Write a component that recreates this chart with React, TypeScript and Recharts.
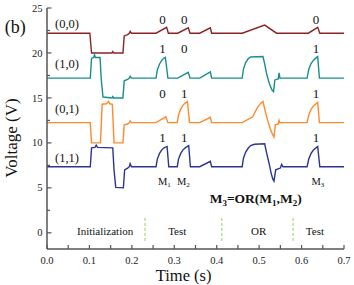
import React from 'react';
import { LineChart, Line, XAxis, YAxis, ReferenceLine, ReferenceDot } from 'recharts';

// ---- data: [time (s), voltage (V)] ----
const trace00: number[][] = [[0,22.2],[0.101,22.2],[0.105,20.0],[0.153,20.0],[0.155,20.15],[0.157,20.0],[0.179,20.0],[0.182,21.9],[0.19,22.05],[0.194,22.2],[0.196,22.4],[0.199,22.2],[0.257,22.2],[0.282,22.85],[0.286,22.2],[0.308,22.2],[0.333,22.8],[0.337,22.2],[0.36,22.2],[0.385,22.8],[0.388,22.2],[0.46,22.2],[0.513,23.1],[0.541,22.2],[0.616,22.2],[0.638,22.85],[0.643,22.2],[0.7,22.2]];
const trace10: number[][] = [[0,17.2],[0.102,17.2],[0.105,19.4],[0.11,19.5],[0.112,19.8],[0.114,19.5],[0.125,19.5],[0.128,17.0],[0.132,15.1],[0.153,15.0],[0.155,15.15],[0.157,15.0],[0.179,15.0],[0.182,16.9],[0.19,17.05],[0.194,17.2],[0.196,17.4],[0.199,17.2],[0.257,17.2],[0.26,18.1],[0.265,18.75],[0.27,19.15],[0.275,19.4],[0.279,19.5],[0.285,17.2],[0.308,17.2],[0.333,17.85],[0.337,17.2],[0.36,17.2],[0.385,17.9],[0.388,17.2],[0.46,17.2],[0.463,18.2],[0.468,18.9],[0.474,19.35],[0.48,19.55],[0.509,19.6],[0.513,18.8],[0.518,17.6],[0.524,16.6],[0.53,15.9],[0.534,15.7],[0.537,17.0],[0.545,17.1],[0.547,17.8],[0.549,17.2],[0.613,17.2],[0.617,18.2],[0.622,18.8],[0.628,19.2],[0.634,19.45],[0.638,19.6],[0.642,17.2],[0.7,17.2]];
const trace01: number[][] = [[0,12.25],[0.102,12.25],[0.105,10.0],[0.126,10.0],[0.13,14.3],[0.14,14.35],[0.145,14.6],[0.148,14.35],[0.154,14.3],[0.158,10.0],[0.179,10.0],[0.182,12.0],[0.19,12.1],[0.194,12.25],[0.196,12.45],[0.199,12.25],[0.257,12.25],[0.28,12.9],[0.285,12.25],[0.307,12.25],[0.31,13.1],[0.315,13.75],[0.32,14.15],[0.325,14.4],[0.331,14.6],[0.336,12.25],[0.36,12.25],[0.385,12.85],[0.388,12.25],[0.46,12.25],[0.485,12.9],[0.49,13.4],[0.495,13.85],[0.5,14.2],[0.505,14.45],[0.509,14.6],[0.514,13.6],[0.52,12.5],[0.526,11.6],[0.531,11.0],[0.535,10.65],[0.538,12.0],[0.545,12.1],[0.547,12.5],[0.549,12.25],[0.613,12.25],[0.617,13.1],[0.622,13.7],[0.628,14.1],[0.634,14.35],[0.638,14.5],[0.642,12.25],[0.7,12.25]];
const trace11: number[][] = [[0,7.35],[0.102,7.35],[0.105,9.45],[0.113,9.5],[0.116,9.75],[0.119,9.5],[0.155,9.45],[0.158,7.0],[0.162,5.05],[0.18,5.0],[0.183,7.0],[0.19,7.2],[0.194,7.35],[0.196,7.7],[0.199,7.35],[0.257,7.35],[0.26,8.2],[0.265,8.8],[0.27,9.2],[0.276,9.45],[0.283,9.6],[0.287,7.35],[0.307,7.35],[0.31,8.2],[0.315,8.8],[0.32,9.2],[0.327,9.5],[0.334,9.7],[0.338,7.35],[0.36,7.35],[0.385,7.95],[0.388,7.35],[0.46,7.35],[0.463,8.3],[0.468,8.95],[0.474,9.4],[0.48,9.7],[0.489,9.85],[0.513,9.9],[0.518,8.8],[0.524,7.6],[0.528,6.7],[0.532,6.0],[0.535,5.75],[0.539,7.0],[0.55,7.2],[0.553,7.6],[0.556,7.35],[0.613,7.35],[0.617,8.2],[0.622,8.8],[0.628,9.2],[0.634,9.45],[0.638,9.6],[0.643,7.35],[0.7,7.35]];

const xTicks = [0, 0.05, 0.1, 0.15, 0.2, 0.25, 0.3, 0.35, 0.4, 0.45, 0.5, 0.55, 0.6, 0.65, 0.7];
const yTicks = [0, 2.5, 5, 7.5, 10, 12.5, 15, 17.5, 20, 22.5, 25];

const seriesLabels = ['(0,0)', '(1,0)', '(0,1)', '(1,1)'];
const seriesLabelV = [22.73, 18.36, 13.36, 7.91];
const bitColumnsT = [0.2724, 0.3233, 0.6338];
const bitRowsV = [23.22, 20.03, 14.96, 10.13];
const bits = [['0', '0', '0'], ['1', '0', '1'], ['0', '1', '1'], ['1', '1', '1']];
const mSubs = ['1', '2', '3'];
const mT = [0.2767, 0.3216, 0.6385];
const phases = ['Initialization', 'Test', 'OR', 'Test'];
const phaseT = [0.137, 0.307, 0.499, 0.6315];
const dividers = [0.231, 0.412, 0.58];

const COLORS = ['#8b2326', '#17908a', '#ff8a2b', '#2b3591'];
const AX = '#555';
const FONT = '"Liberation Serif", "Times New Roman", serif';

const toObj = (a: number[][]) => a.map(([t, v]) => ({ t, v }));
const isMajorX = (v: number) => Math.round(v * 100) % 10 === 0;
const isMajorY = (v: number) => Math.round(v * 10) % 50 === 0;

const BottomTick = (p: any) => {
  const v = p.payload.value;
  const maj = isMajorX(v);
  return (
    <g>
      <line x1={p.x} x2={p.x} y1={p.y} y2={p.y - 4} stroke={AX} strokeWidth={1.2} />
      {maj && (
        <text x={p.x} y={p.y + 14.5} textAnchor="middle" fontFamily={FONT} fontSize={10.5} fill="#222">
          {v.toFixed(1)}
        </text>
      )}
    </g>
  );
};
const TopTick = (p: any) => (
  <line x1={p.x} x2={p.x} y1={p.y} y2={p.y + 4} stroke={AX} strokeWidth={1.2} />
);
const LeftTick = (p: any) => {
  const v = p.payload.value;
  const maj = isMajorY(v);
  return (
    <g>
      <line x1={p.x} x2={p.x + (maj ? 4.5 : 3)} y1={p.y} y2={p.y} stroke={AX} strokeWidth={1.2} />
      {maj && (
        <text x={p.x - 4.5} y={p.y + 3.6} textAnchor="end" fontFamily={FONT} fontSize={10.5} fill="#222">
          {String(v)}
        </text>
      )}
    </g>
  );
};
const RightTick = (p: any) => {
  const maj = isMajorY(p.payload.value);
  return <line x1={p.x} x2={p.x - (maj ? 4.5 : 3)} y1={p.y} y2={p.y} stroke={AX} strokeWidth={1.2} />;
};

const txt = (content: React.ReactNode, opts: any = {}) => (props: any) => (
  <text
    x={props.cx}
    y={props.cy}
    textAnchor={opts.anchor || 'middle'}
    fontFamily={FONT}
    fontSize={opts.size || 11}
    fontWeight={opts.weight || 'normal'}
    fill="#111"
    transform={opts.rotate ? `rotate(-90 ${props.cx} ${props.cy})` : undefined}
    dominantBaseline={opts.central ? 'central' : undefined}
  >
    {content}
  </text>
);

export default function App() {
  const ids = { xAxisId: 'b', yAxisId: 'l' } as const;
  return (
    <div style={{ position: 'absolute', left: 0, top: 0 }}>
      <LineChart width={354} height={285} margin={{ top: 8, right: 10, bottom: 0, left: 0 }}>
        <XAxis xAxisId="b" dataKey="t" type="number" domain={[0, 0.7]} allowDataOverflow ticks={xTicks} interval={0}
          height={36} tickSize={0} tickMargin={0} tickLine={false} axisLine={{ stroke: AX, strokeWidth: 1.5 }} tick={BottomTick} />
        <XAxis xAxisId="t" orientation="top" dataKey="t" type="number" domain={[0, 0.7]} allowDataOverflow ticks={xTicks} interval={0}
          height={0} tickSize={0} tickMargin={0} tickLine={false} axisLine={{ stroke: AX, strokeWidth: 1.5 }} tick={TopTick} />
        <YAxis yAxisId="l" type="number" domain={[-1.8, 25]} allowDataOverflow ticks={yTicks} interval={0}
          width={47} tickSize={0} tickMargin={0} tickLine={false} axisLine={{ stroke: AX, strokeWidth: 1.5 }} tick={LeftTick} />
        <YAxis yAxisId="r" orientation="right" type="number" domain={[-1.8, 25]} allowDataOverflow ticks={yTicks} interval={0}
          width={0} tickSize={0} tickMargin={0} tickLine={false} axisLine={{ stroke: AX, strokeWidth: 1.5 }} tick={RightTick} />

        {[trace00, trace10, trace01, trace11].map((tr, i) => (
          <Line key={i} {...ids} data={toObj(tr)} dataKey="v" type="linear" stroke={COLORS[i]} strokeWidth={1.4}
            dot={false} activeDot={false} isAnimationActive={false} />
        ))}

        {dividers.map((d, i) => (
          <ReferenceLine key={'d' + i} {...ids} segment={[{ x: d, y: -0.9 }, { x: d, y: 1.7 }]}
            stroke="#8fd45a" strokeDasharray="3 2" strokeWidth={1} />
        ))}

        {seriesLabels.map((s, i) => (
          <ReferenceDot key={'s' + i} {...ids} x={0.019} y={seriesLabelV[i]} r={0} ifOverflow="visible"
            shape={txt(s, { anchor: 'start', size: 12.5 })} />
        ))}
        {bits.map((row, r) =>
          row.map((b, c) => (
            <ReferenceDot key={'b' + r + c} {...ids} x={bitColumnsT[c]} y={bitRowsV[r]} r={0} ifOverflow="visible"
              shape={txt(b, { size: 13 })} />
          ))
        )}
        {mSubs.map((s, i) => (
          <ReferenceDot key={'m' + i} {...ids} x={mT[i]} y={5.32} r={0} ifOverflow="visible"
            shape={txt(<>M<tspan dy={2.5} fontSize={7}>{s}</tspan></>, { size: 10.5 })} />
        ))}
        <ReferenceDot {...ids} x={0.4919} y={3.32} r={0} ifOverflow="visible"
          shape={txt(
            <>M<tspan dy={3} fontSize={9}>3</tspan><tspan dy={-3}>=OR(M</tspan><tspan dy={3} fontSize={9}>1</tspan><tspan dy={-3}>,M</tspan><tspan dy={3} fontSize={9}>2</tspan><tspan dy={-3}>)</tspan></>,
            { size: 13.5, weight: 'bold' }
          )} />
        {phases.map((p, i) => (
          <ReferenceDot key={'p' + i} {...ids} x={phaseT[i]} y={-0.2} r={0} ifOverflow="visible"
            shape={txt(p, { size: 11 })} />
        ))}
        <ReferenceDot {...ids} x={-0.0993} y={22.22} r={0} ifOverflow="visible" shape={txt('(b)', { anchor: 'start', size: 18 })} />
        <ReferenceDot {...ids} x={-0.0828} y={10.54} r={0} ifOverflow="visible"
          shape={txt('Voltage (V)', { size: 17, rotate: true, central: true })} />
        <ReferenceDot {...ids} x={0.322} y={-5.357} r={0} ifOverflow="visible" shape={txt('Time (s)', { size: 16.5 })} />
      </LineChart>
    </div>
  );
}
